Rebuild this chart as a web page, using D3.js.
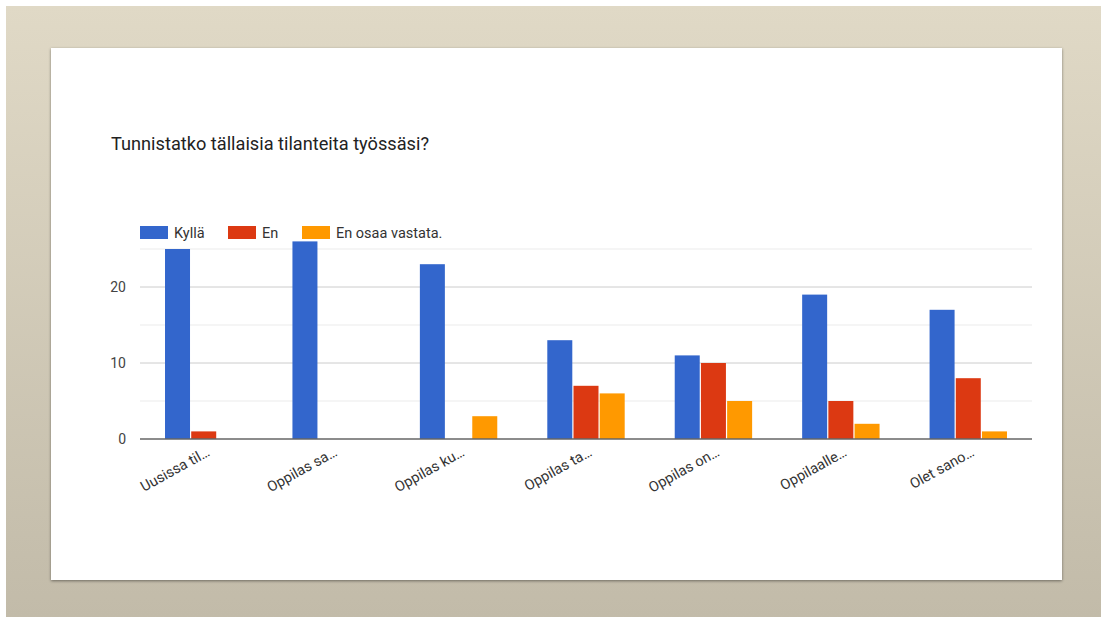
<!DOCTYPE html>
<html>
<head>
<meta charset="utf-8">
<script src="https://cdn.jsdelivr.net/npm/d3@7"></script>
<style>
  html, body { margin: 0; padding: 0; background: #fff; }
  svg { display: block; font-family: Roboto, "Liberation Sans", Arial, sans-serif; }
</style>
</head>
<body>
<svg id="chart" width="1101" height="617"></svg>
<script>
const title = 'Tunnistatko tällaisia tilanteita työssäsi?'
const categories = ['Uusissa til…', 'Oppilas sa…', 'Oppilas ku…', 'Oppilas ta…', 'Oppilas on…', 'Oppilaalle…', 'Olet sano…']
const seriesNames = ['Kyllä', 'En', 'En osaa vastata.']
const seriesColors = ['#3366cc', '#dc3912', '#ff9900']
const kylla = [25, 26, 23, 13, 11, 19, 17]
const en = [1, 0, 0, 7, 10, 5, 8]
const enOsaa = [0, 0, 3, 6, 5, 2, 1]
const majorTicks = [0, 10, 20]
const minorTicks = [5, 15, 25]

const series = [kylla, en, enOsaa]
const svg = d3.select('#chart')

// slide background
const defs = svg.append('defs')
const grad = defs.append('linearGradient')
  .attr('id', 'bg').attr('x1', 0).attr('y1', 0).attr('x2', 0).attr('y2', 1)
grad.append('stop').attr('offset', '0%').attr('stop-color', '#e0d9c6')
grad.append('stop').attr('offset', '100%').attr('stop-color', '#c2bba9')
const shadow = defs.append('filter').attr('id', 'shadow')
  .attr('x', '-5%').attr('y', '-5%').attr('width', '110%').attr('height', '115%')
shadow.append('feDropShadow')
  .attr('dx', 0).attr('dy', 1).attr('stdDeviation', 1.5)
  .attr('flood-color', '#000').attr('flood-opacity', 0.45)

svg.append('rect').attr('x', 6).attr('y', 6).attr('width', 1095).attr('height', 611)
  .attr('fill', 'url(#bg)')
svg.append('rect').attr('x', 51).attr('y', 48).attr('width', 1011).attr('height', 532)
  .attr('fill', '#fff').attr('filter', 'url(#shadow)')

svg.append('text')
  .attr('x', 111).attr('y', 150)
  .attr('font-size', 18.2).attr('fill', '#222')
  .text(title)

const plot = { left: 140, right: 1032, top: 249, bottom: 439 }

const y = d3.scaleLinear().domain([0, 25]).range([plot.bottom, plot.top])
const x0 = d3.scaleBand().domain(categories).range([plot.left, plot.right])
const barW = 25
const gap = 1.2

const g = svg.append('g')

g.selectAll('line.minor').data(minorTicks).enter().append('line')
  .attr('x1', plot.left).attr('x2', plot.right)
  .attr('y1', d => y(d)).attr('y2', d => y(d))
  .attr('stroke', '#ebebeb').attr('stroke-width', 1)

g.selectAll('line.major').data(majorTicks.filter(d => d > 0)).enter().append('line')
  .attr('x1', plot.left).attr('x2', plot.right)
  .attr('y1', d => y(d)).attr('y2', d => y(d))
  .attr('stroke', '#cccccc').attr('stroke-width', 1)

g.selectAll('text.ytick').data(majorTicks).enter().append('text')
  .attr('x', 126).attr('y', d => y(d) + 5)
  .attr('text-anchor', 'end').attr('font-size', 14).attr('fill', '#444')
  .text(d => d)

// bars
series.forEach((vals, si) => {
  g.selectAll(null).data(vals).enter().append('rect')
    .attr('x', (d, i) => x0(categories[i]) + x0.bandwidth() / 2 - (3 * barW + 2 * gap) / 2 + si * (barW + gap))
    .attr('y', d => y(d))
    .attr('width', barW)
    .attr('height', d => plot.bottom - y(d))
    .attr('fill', seriesColors[si])
})

g.append('line')
  .attr('x1', plot.left).attr('x2', plot.right)
  .attr('y1', y(0)).attr('y2', y(0))
  .attr('stroke', '#666').attr('stroke-width', 1.5)

// category labels
g.selectAll('text.xlab').data(categories).enter().append('text')
  .attr('transform', d => `translate(${x0(d) + x0.bandwidth() / 2 + 7},${plot.bottom + 16}) rotate(-29)`)
  .attr('text-anchor', 'end').attr('font-size', 14.5).attr('fill', '#333')
  .text(d => d)

// legend
const legend = svg.append('g')
const legendX = [140, 228, 302]
seriesNames.forEach((name, i) => {
  legend.append('rect')
    .attr('x', legendX[i]).attr('y', 226).attr('width', 28).attr('height', 13)
    .attr('fill', seriesColors[i])
  legend.append('text')
    .attr('x', legendX[i] + 34).attr('y', 238)
    .attr('font-size', 14.5).attr('fill', '#333')
    .text(name)
})
</script>
</body>
</html>
